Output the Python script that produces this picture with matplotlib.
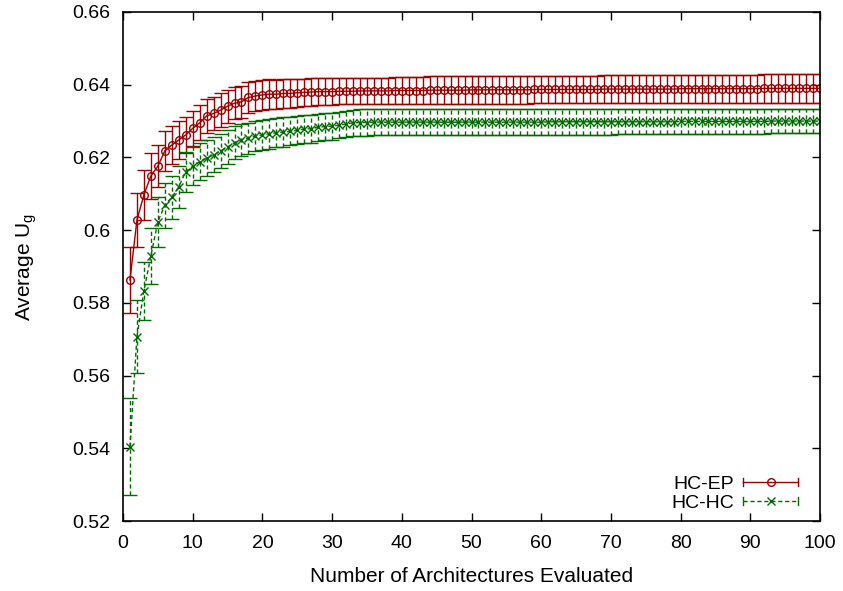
import numpy as np
import matplotlib
matplotlib.use("Agg")
import matplotlib.pyplot as plt
from matplotlib.lines import Line2D
from matplotlib.legend_handler import HandlerBase

# data (x = 1..100)
evals = list(range(1, 101))

ep_mean = [
    0.5863, 0.6028, 0.6097, 0.6149, 0.6176, 0.6218, 0.6234, 0.6248, 0.6262, 0.6280,
    0.6295, 0.6314, 0.6321, 0.6330, 0.6341, 0.6349, 0.6353, 0.6365, 0.6369, 0.6372,
    0.6374, 0.6374, 0.6376, 0.6376, 0.6378, 0.6379, 0.6380, 0.6381, 0.6381, 0.6381,
    0.6382, 0.6382, 0.6382, 0.6383, 0.6383, 0.6383, 0.6383, 0.6383, 0.6384, 0.6384,
    0.6384, 0.6384, 0.6384, 0.6385, 0.6385, 0.6385, 0.6385, 0.6385, 0.6385, 0.6386,
    0.6386, 0.6386, 0.6386, 0.6386, 0.6386, 0.6386, 0.6386, 0.6386, 0.6387, 0.6387,
    0.6387, 0.6387, 0.6387, 0.6387, 0.6387, 0.6387, 0.6387, 0.6387, 0.6388, 0.6388,
    0.6388, 0.6388, 0.6388, 0.6388, 0.6388, 0.6388, 0.6388, 0.6388, 0.6388, 0.6389,
    0.6389, 0.6389, 0.6389, 0.6389, 0.6389, 0.6389, 0.6389, 0.6389, 0.6389, 0.6389,
    0.6389, 0.6390, 0.6390, 0.6390, 0.6390, 0.6390, 0.6390, 0.6390, 0.6390, 0.6390,
]
ep_err = [
    0.0092, 0.0074, 0.0069, 0.0062, 0.0058, 0.0055, 0.0053, 0.0051, 0.0050, 0.0049,
    0.0048, 0.0047, 0.0046, 0.0046, 0.0045, 0.0044, 0.0044, 0.0043, 0.0042, 0.0042,
    0.0041, 0.0040, 0.0040, 0.0039, 0.0039, 0.0038, 0.0038, 0.0038, 0.0037, 0.0037,
    0.0036, 0.0036, 0.0036, 0.0036, 0.0036, 0.0036, 0.0036, 0.0036, 0.0036, 0.0036,
    0.0036, 0.0036, 0.0036, 0.0038, 0.0038, 0.0038, 0.0038, 0.0038, 0.0038, 0.0038,
    0.0038, 0.0038, 0.0038, 0.0038, 0.0038, 0.0038, 0.0038, 0.0038, 0.0038, 0.0038,
    0.0038, 0.0038, 0.0038, 0.0038, 0.0038, 0.0038, 0.0038, 0.0038, 0.0038, 0.0038,
    0.0038, 0.0038, 0.0038, 0.0038, 0.0038, 0.0039, 0.0039, 0.0039, 0.0039, 0.0039,
    0.0039, 0.0039, 0.0039, 0.0039, 0.0039, 0.0039, 0.0039, 0.0039, 0.0039, 0.0039,
    0.0039, 0.0039, 0.0039, 0.0039, 0.0039, 0.0039, 0.0039, 0.0039, 0.0039, 0.0039,
]

hc_mean = [
    0.5404, 0.5707, 0.5833, 0.5929, 0.6023, 0.6069, 0.6090, 0.6119, 0.6161, 0.6176,
    0.6188, 0.6198, 0.6207, 0.6218, 0.6229, 0.6241, 0.6248, 0.6253, 0.6259, 0.6262,
    0.6265, 0.6268, 0.6270, 0.6272, 0.6275, 0.6278, 0.6279, 0.6283, 0.6285, 0.6286,
    0.6289, 0.6292, 0.6295, 0.6296, 0.6296, 0.6297, 0.6297, 0.6297, 0.6297, 0.6297,
    0.6297, 0.6297, 0.6297, 0.6297, 0.6297, 0.6297, 0.6297, 0.6297, 0.6297, 0.6297,
    0.6297, 0.6297, 0.6297, 0.6297, 0.6297, 0.6297, 0.6297, 0.6297, 0.6297, 0.6297,
    0.6298, 0.6298, 0.6298, 0.6298, 0.6298, 0.6298, 0.6298, 0.6298, 0.6298, 0.6298,
    0.6298, 0.6298, 0.6298, 0.6298, 0.6298, 0.6298, 0.6298, 0.6298, 0.6298, 0.6299,
    0.6299, 0.6299, 0.6299, 0.6299, 0.6299, 0.6299, 0.6299, 0.6299, 0.6299, 0.6299,
    0.6299, 0.6299, 0.6300, 0.6300, 0.6300, 0.6300, 0.6300, 0.6300, 0.6300, 0.6300,
]
hc_err = [
    0.0133, 0.0100, 0.0080, 0.0078, 0.0068, 0.0062, 0.0060, 0.0058, 0.0055, 0.0053,
    0.0051, 0.0050, 0.0048, 0.0047, 0.0046, 0.0045, 0.0044, 0.0043, 0.0042, 0.0042,
    0.0041, 0.0040, 0.0040, 0.0039, 0.0039, 0.0038, 0.0038, 0.0037, 0.0037, 0.0037,
    0.0036, 0.0036, 0.0036, 0.0036, 0.0036, 0.0036, 0.0036, 0.0036, 0.0036, 0.0036,
    0.0036, 0.0036, 0.0036, 0.0036, 0.0036, 0.0036, 0.0036, 0.0036, 0.0036, 0.0036,
    0.0035, 0.0035, 0.0035, 0.0035, 0.0035, 0.0035, 0.0035, 0.0035, 0.0035, 0.0035,
    0.0035, 0.0035, 0.0035, 0.0035, 0.0035, 0.0035, 0.0035, 0.0035, 0.0035, 0.0035,
    0.0034, 0.0034, 0.0034, 0.0034, 0.0034, 0.0034, 0.0034, 0.0034, 0.0034, 0.0034,
    0.0034, 0.0034, 0.0034, 0.0034, 0.0034, 0.0034, 0.0034, 0.0034, 0.0034, 0.0034,
    0.0034, 0.0034, 0.0034, 0.0034, 0.0034, 0.0034, 0.0034, 0.0034, 0.0034, 0.0034,
]

x_ticks = [0, 10, 20, 30, 40, 50, 60, 70, 80, 90, 100]
y_ticks = [0.52, 0.54, 0.56, 0.58, 0.6, 0.62, 0.64, 0.66]
y_labels = ["0.52", "0.54", "0.56", "0.58", "0.6", "0.62", "0.64", "0.66"]

RED = "#9a0000"
GREEN = "#006a00"
FS = 14

plt.rcParams["font.family"] = ["Liberation Sans", "DejaVu Sans"]
plt.rcParams["mathtext.fontset"] = "custom"
plt.rcParams["mathtext.rm"] = "Liberation Sans"
plt.rcParams["mathtext.it"] = "Liberation Sans"


class ErrKey(HandlerBase):
    # gnuplot style key: horizontal line with end caps and marker in the middle
    def create_artists(self, legend, orig, xdescent, ydescent, width, height, fontsize, trans):
        y = height / 2.0 - ydescent
        x0, x1 = -xdescent, width - xdescent
        h = height * 0.3
        kw = dict(color=orig.get_color(), lw=1.0, transform=trans)
        ln = Line2D([x0, x1], [y, y], linestyle=orig.get_linestyle(), **kw)
        if orig.get_linestyle() == "--":
            ln.set_dashes((3, 2))
        c0 = Line2D([x0, x0], [y - h, y + h], **kw)
        c1 = Line2D([x1, x1], [y - h, y + h], **kw)
        mk = Line2D([(x0 + x1) / 2], [y], marker=orig.get_marker(), markersize=5.5,
                    markerfacecolor="none", markeredgecolor=orig.get_color(),
                    markeredgewidth=1.0, linestyle="none", transform=trans)
        return [ln, c0, c1, mk]


fig = plt.figure(figsize=(8.43, 5.91), dpi=100)
ax = fig.add_axes([123 / 843, 1 - 521 / 591, 697 / 843, 509 / 591])

ax.errorbar(evals, ep_mean, yerr=ep_err, color=RED, lw=1.0, elinewidth=1.0,
            capsize=5, capthick=1.0, marker="o", markersize=5.5,
            markerfacecolor="none", markeredgewidth=1.0)
e2 = ax.errorbar(evals, hc_mean, yerr=hc_err, color=GREEN, lw=1.0, elinewidth=1.0,
                 capsize=5, capthick=1.0, marker="x", markersize=5.5,
                 markeredgewidth=1.0, linestyle="--", dashes=(3, 2))
for lc in e2[2]:
    lc.set_linestyle((0, (3, 2)))

ax.set_xlim(0, 100)
ax.set_ylim(0.52, 0.66)
ax.set_xticks(x_ticks)
ax.set_yticks(y_ticks)
ax.set_yticklabels(y_labels)
ax.tick_params(axis="both", direction="in", length=6, width=1.0, top=True, right=True,
               labelsize=FS, colors="black")
ax.tick_params(axis="y", pad=9)
ax.tick_params(axis="x", pad=10)
for sp in ax.spines.values():
    sp.set_linewidth(1.2)

ax.set_xlabel("Number of Architectures Evaluated", fontsize=15, labelpad=11)
ax.set_ylabel(r"Average U$_\mathregular{g}$", fontsize=15, labelpad=24)

h1 = Line2D([], [], color=RED, linestyle="-", marker="o")
h2 = Line2D([], [], color=GREEN, linestyle="--", marker="x")
ax.legend([h1, h2], ["HC-EP", "HC-HC"], handler_map={Line2D: ErrKey()},
          loc="lower right", bbox_to_anchor=(0.985, -0.005), frameon=False,
          markerfirst=False, fontsize=FS, handlelength=2.8, labelspacing=0.08,
          handletextpad=0.5, borderaxespad=0.2)

fig.savefig("out.png", dpi=100)
